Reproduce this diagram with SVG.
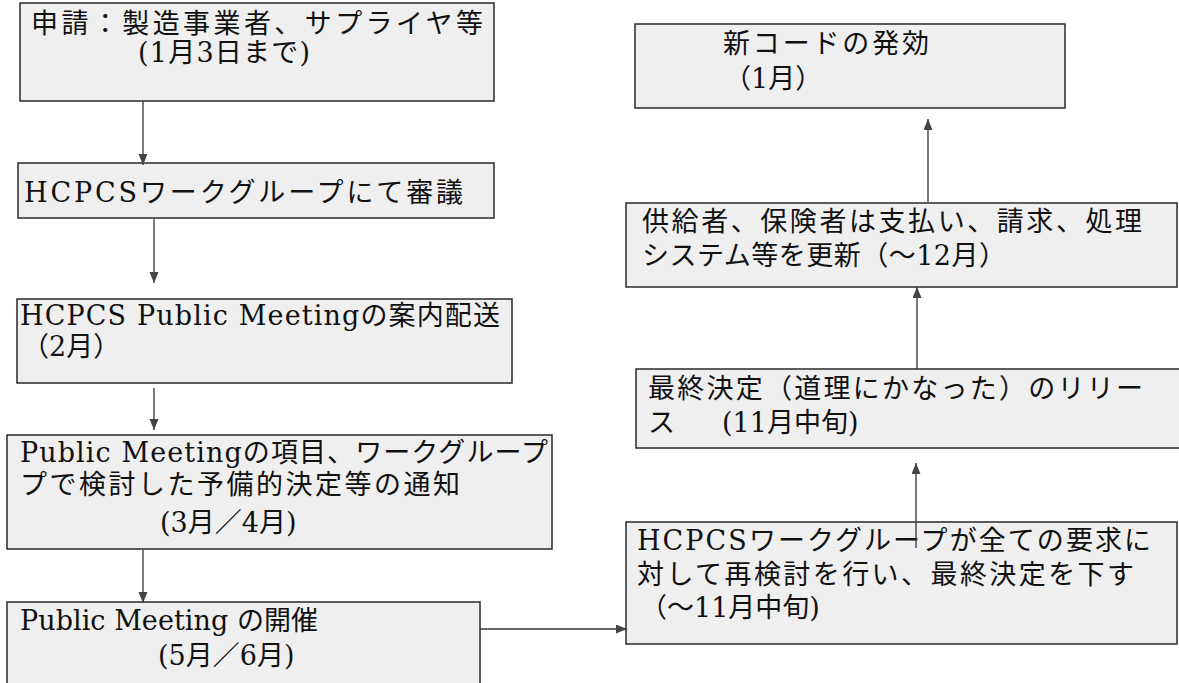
<svg xmlns="http://www.w3.org/2000/svg" width="1179" height="683" viewBox="0 0 1179 683">
  <style>
    .box { fill: #efefef; stroke: #2a2a2a; stroke-width: 1.5; }
    .t { font-family: "DejaVu Serif", "Noto Sans CJK JP", serif; font-size: 27px; fill: #111; }
    .c { fill: none; stroke: #333; stroke-width: 1.3; }
  </style>
  <defs>
    <marker id="ah" markerUnits="userSpaceOnUse" markerWidth="12" markerHeight="10" refX="11" refY="4.5" orient="auto">
      <path d="M0,0 L11,4.5 L0,9 z" fill="#444"/>
    </marker>
  </defs>
  <rect width="1179" height="683" fill="#ffffff"/>

  <g id="n1">
    <rect class="box" x="20" y="3" width="474" height="98"/>
    <text class="t" x="31" y="33" textLength="452" lengthAdjust="spacing">申請：製造事業者、サプライヤ等</text>
    <text class="t" x="138" y="62" textLength="172" lengthAdjust="spacing">(1月3日まで)</text>
  </g>
  <g id="n2">
    <rect class="box" x="18" y="163" width="476" height="55"/>
    <text class="t" x="24" y="202" textLength="439" lengthAdjust="spacing">HCPCSワークグループにて審議</text>
  </g>
  <g id="n3">
    <rect class="box" x="17" y="299" width="495" height="84"/>
    <text class="t" x="20" y="325" textLength="480" lengthAdjust="spacing">HCPCS Public Meetingの案内配送</text>
    <text class="t" x="22" y="356">（2月）</text>
  </g>
  <g id="n4">
    <rect class="box" x="7" y="435" width="545" height="114"/>
    <text class="t" x="20" y="462" textLength="528" lengthAdjust="spacing">Public Meetingの項目、ワークグループ</text>
    <text class="t" x="20" y="494" textLength="440" lengthAdjust="spacing">プで検討した予備的決定等の通知</text>
    <text class="t" x="160" y="532">(3月／4月)</text>
  </g>
  <g id="n5">
    <rect class="box" x="7" y="602" width="473" height="95"/>
    <text class="t" x="20" y="630" textLength="298" lengthAdjust="spacing">Public Meeting の開催</text>
    <text class="t" x="158" y="665">(5月／6月)</text>
  </g>
  <g id="n6">
    <rect class="box" x="626" y="522" width="551" height="122"/>
    <text class="t" x="637" y="550" textLength="514" lengthAdjust="spacing">HCPCSワークグループが全ての要求に</text>
    <text class="t" x="637" y="584" textLength="497" lengthAdjust="spacing">対して再検討を行い、最終決定を下す</text>
    <text class="t" x="640" y="617">（～11月中旬)</text>
  </g>
  <g id="n7">
    <rect class="box" x="636" y="369" width="560" height="79"/>
    <text class="t" x="648" y="398" textLength="495" lengthAdjust="spacing">最終決定（道理にかなった）のリリー</text>
    <text class="t" x="648" y="432">ス</text>
    <text class="t" x="722" y="432">(11月中旬)</text>
  </g>
  <g id="n8">
    <rect class="box" x="626" y="203" width="551" height="84"/>
    <text class="t" x="642" y="231" textLength="500" lengthAdjust="spacing">供給者、保険者は支払い、請求、処理</text>
    <text class="t" x="642" y="265" textLength="364" lengthAdjust="spacing">システム等を更新（～12月）</text>
  </g>
  <g id="n9">
    <rect class="box" x="635" y="24" width="430" height="84"/>
    <text class="t" x="723" y="53" textLength="206" lengthAdjust="spacing">新コードの発効</text>
    <text class="t" x="724" y="88">（1月）</text>
  </g>

  <g id="connectors">
    <path class="c" d="M143,101 L143,165" marker-end="url(#ah)"/>
    <path class="c" d="M154,219 L154,283" marker-end="url(#ah)"/>
    <path class="c" d="M154,388 L154,430" marker-end="url(#ah)"/>
    <path class="c" d="M143,550 L143,603" marker-end="url(#ah)"/>
    <path class="c" d="M480,629 L627,629" marker-end="url(#ah)"/>
    <path class="c" d="M916,548 L916,463" marker-end="url(#ah)"/>
    <path class="c" d="M917,369 L917,287" marker-end="url(#ah)"/>
    <path class="c" d="M928,202 L928,119" marker-end="url(#ah)"/>
  </g>
</svg>
